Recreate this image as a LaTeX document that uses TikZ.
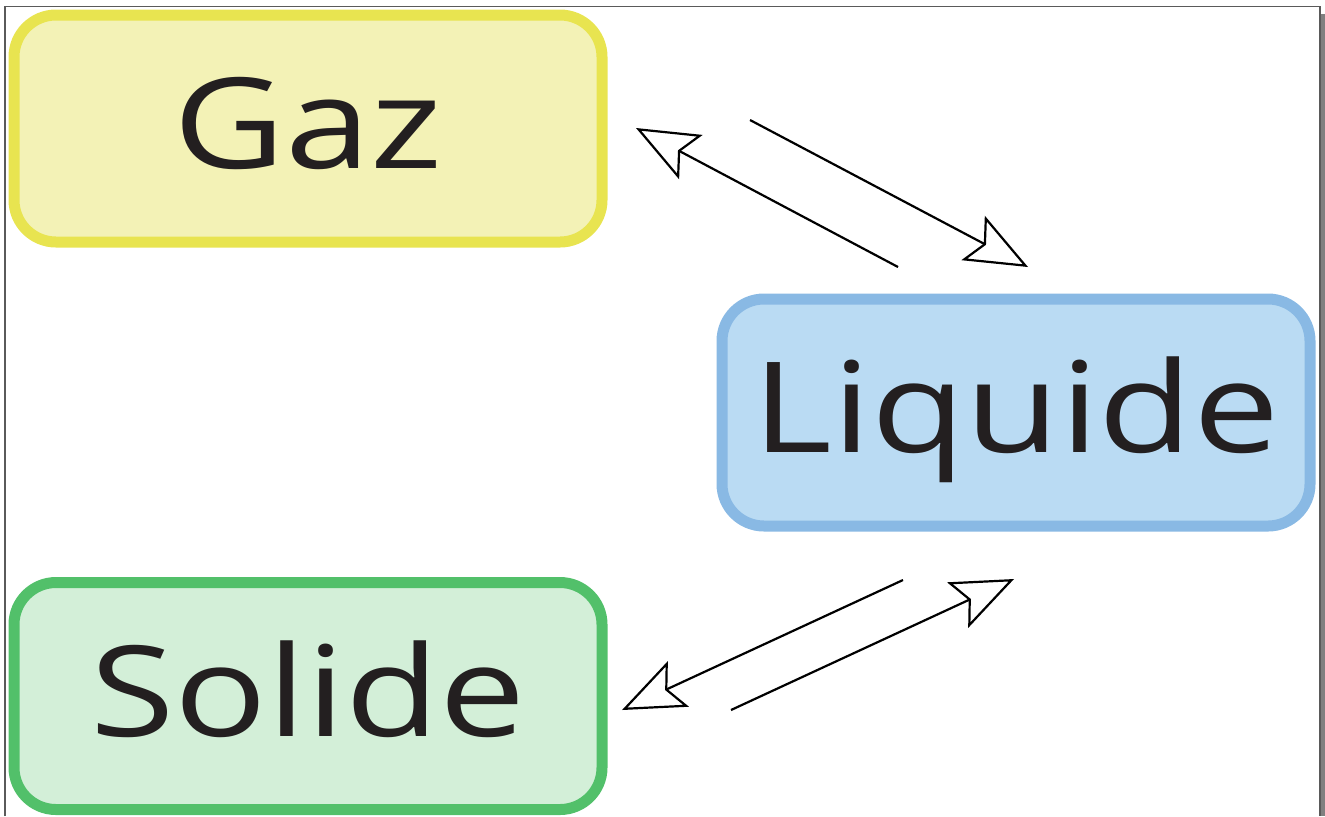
\documentclass[tikz,border=0pt]{standalone}
\usepackage{fontspec}
\setmainfont[FakeStretch=1.22]{Open Sans}
\usetikzlibrary{arrows.meta}
\definecolor{gazline}{RGB}{232,228,80}
\definecolor{gazfill}{RGB}{243,242,182}
\definecolor{liqline}{RGB}{137,185,228}
\definecolor{liqfill}{RGB}{186,219,243}
\definecolor{solline}{RGB}{82,192,106}
\definecolor{solfill}{RGB}{211,239,216}
\definecolor{txt}{RGB}{35,31,32}
\definecolor{framegray}{RGB}{90,90,90}
\definecolor{shadowgray}{RGB}{128,128,128}
\tikzset{
  phase/.style={draw, line width=5.5pt, rounded corners=21pt,
    minimum width=294pt, minimum height=113.5pt, inner sep=0pt,
    text height=45pt, text depth=5pt, text=txt,
    font=\fontsize{63}{70}\selectfont},
  change/.style={line width=1.1pt, -{Stealth[open, length=31pt, width=25pt, inset=6pt]}}
}
\begin{document}
\begin{tikzpicture}[x=0.5pt,y=-0.5pt]
\useasboundingbox (0,0) rectangle (1325,816);
\fill[shadowgray] (1320,14) rectangle (1325,816);
\draw[framegray, line width=0.6pt] (5,816) -- (5,6.5) -- (1320,6.5) -- (1320,816);
\node[phase, fill=gazfill, draw=gazline] (gaz) at (308,128.5) {Gaz};
\node[phase, fill=liqfill, draw=liqline] (liq) at (1016,412.5) {Liquide};
\node[phase, fill=solfill, draw=solline] (sol) at (308,696) {Solide};
\coordinate (a1s) at (898,267); \coordinate (a1e) at (636,128);
\coordinate (a2s) at (750,120); \coordinate (a2e) at (1028,267);
\coordinate (a3s) at (903,580); \coordinate (a3e) at (622,710);
\coordinate (a4s) at (731,710); \coordinate (a4e) at (1014,579);
\draw[change] (a1s) -- (a1e);
\draw[change] (a2s) -- (a2e);
\draw[change] (a3s) -- (a3e);
\draw[change] (a4s) -- (a4e);
\end{tikzpicture}
\end{document}
